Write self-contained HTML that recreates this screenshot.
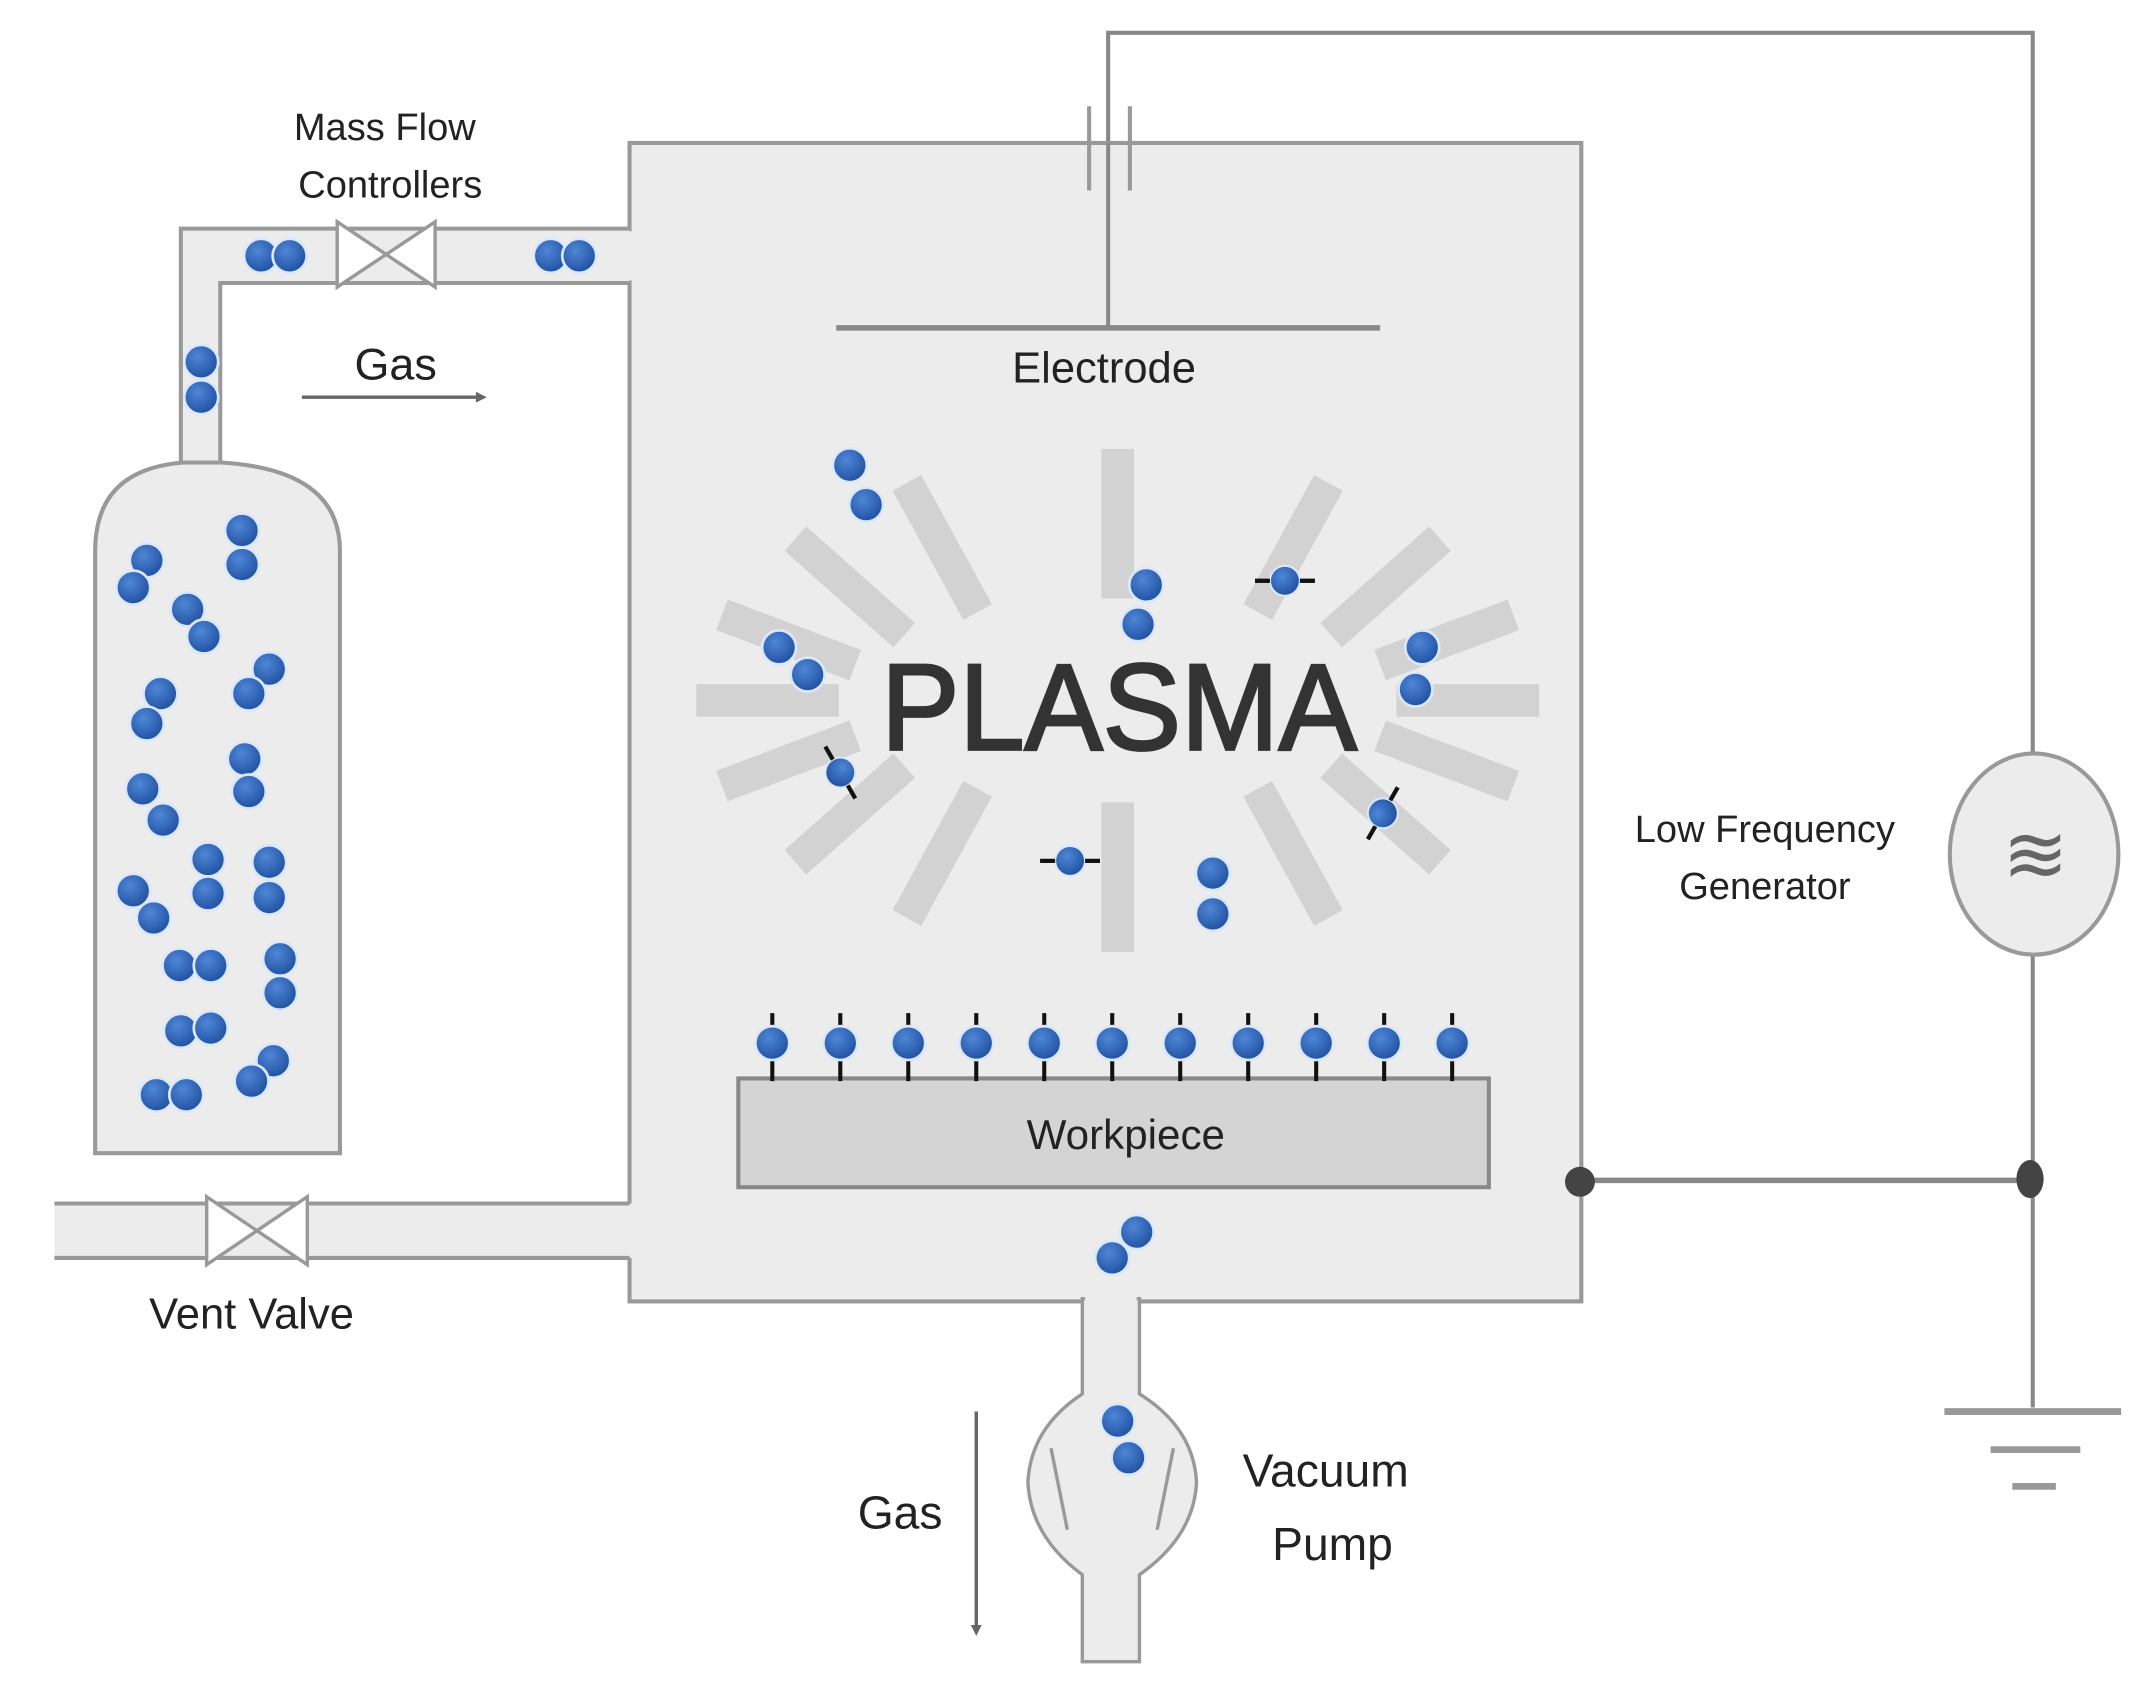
<!DOCTYPE html>
<html><head><meta charset="utf-8"><style>
html,body{margin:0;padding:0;background:#fff;}
svg{display:block;}
text{font-family:"Liberation Sans",sans-serif;fill:#222;}
</style></head><body>
<svg width="2132" height="1700" viewBox="0 0 1568 1250" xmlns="http://www.w3.org/2000/svg">
<defs>
<radialGradient id="b" cx="0.4" cy="0.35" r="0.7"><stop offset="0" stop-color="#4f86d6"/><stop offset="1" stop-color="#1e4e9e"/></radialGradient>
<g id="m"><circle r="12.5" fill="url(#b)" stroke="#dbe8fb" stroke-width="2"/></g>
<g id="ion"><line x1="-22" y1="0" x2="22" y2="0" stroke="#111" stroke-width="3"/><circle r="11" fill="url(#b)" stroke="#dbe8fb" stroke-width="1.5"/><line x1="11" y1="0" x2="22" y2="0" stroke="#111" stroke-width="3"/><line x1="-22" y1="0" x2="-11" y2="0" stroke="#111" stroke-width="3"/></g>
</defs>
<rect width="1568" height="1250" fill="#fff"/>

<g stroke="#888" stroke-width="3" fill="none">
<polyline points="815,241 815,24 1495,24 1495,555"/>
<line x1="1495" y1="702" x2="1495" y2="1035"/>
<line x1="1162" y1="868" x2="1493" y2="868" stroke-width="4"/>
</g>
<g stroke="#999" stroke-width="5">
<line x1="1430" y1="1038" x2="1560" y2="1038"/>
<line x1="1464" y1="1066" x2="1530" y2="1066"/>
<line x1="1480" y1="1093" x2="1512" y2="1093"/>
</g>

<rect x="463" y="105" width="700" height="852" fill="#ececec" stroke="#999" stroke-width="3"/>
<path d="M133,345 L133,168 L463,168 L463,208 L162,208 L162,345 Z" fill="#ececec"/>
<path d="M133,345 L133,168 L463,168 M463,208 L162,208 L162,345" fill="none" stroke="#999" stroke-width="3"/>
<rect x="461" y="170" width="6" height="36" fill="#ececec"/>
<path d="M248,163 L320,211 L320,163 L248,211 Z" fill="#fff" stroke="#999" stroke-width="2.5"/>
<rect x="40" y="885" width="425" height="40" fill="#ececec"/>
<path d="M40,885 L463,885 M40,925 L463,925" stroke="#999" stroke-width="3"/>
<rect x="461" y="887" width="6" height="36" fill="#ececec"/>
<path d="M152,880 L226,930 L226,880 L152,930 Z" fill="#fff" stroke="#999" stroke-width="2.5"/>
<path d="M796,955 L796,1025 Q758,1050 756,1090 Q758,1130 796,1158 L796,1222 L838,1222 L838,1158 Q878,1130 880,1090 Q878,1050 838,1025 L838,955 Z" fill="#ececec" stroke="#999" stroke-width="2.5"/>
<rect x="798" y="950" width="38" height="10" fill="#ececec"/>
<path d="M773,1065 L785,1125 M863,1065 L851,1125" stroke="#999" stroke-width="2.5"/>

<path d="M70,848 L70,405 Q70,345 135,340 L162,340 Q250,345 250,405 L250,848 Z" fill="#ececec" stroke="#999" stroke-width="3"/>

<g stroke="#999" stroke-width="3">
<line x1="801" y1="78" x2="801" y2="140"/>
<line x1="831" y1="78" x2="831" y2="140"/>
<line x1="615" y1="241" x2="1015" y2="241" stroke="#888" stroke-width="4"/>
</g>
<line x1="815" y1="105" x2="815" y2="241" stroke="#888" stroke-width="3"/>

<g stroke="#d2d2d2" stroke-width="24">
<line x1="1027" y1="515" x2="1132" y2="515"/>
<line x1="1015" y1="541" x2="1113" y2="578"/>
<line x1="979" y1="563" x2="1059" y2="634"/>
<line x1="925" y1="580" x2="977" y2="675"/>
<line x1="822" y1="590" x2="822" y2="700"/>
<line x1="719" y1="580" x2="667" y2="675"/>
<line x1="665" y1="563" x2="585" y2="634"/>
<line x1="629" y1="541" x2="531" y2="578"/>
<line x1="617" y1="515" x2="512" y2="515"/>
<line x1="629" y1="489" x2="531" y2="452"/>
<line x1="665" y1="467" x2="585" y2="396"/>
<line x1="719" y1="450" x2="667" y2="355"/>
<line x1="822" y1="440" x2="822" y2="330"/>
<line x1="925" y1="450" x2="977" y2="355"/>
<line x1="979" y1="467" x2="1059" y2="396"/>
<line x1="1015" y1="489" x2="1113" y2="452"/>
</g>
<text x="648" y="551" font-size="90" textLength="350" lengthAdjust="spacingAndGlyphs" style="fill:#333;stroke:#333;stroke-width:2">PLASMA</text>

<rect x="543" y="793" width="552" height="80" fill="#d4d4d4" stroke="#888" stroke-width="3"/>
<text x="828" y="845" text-anchor="middle" font-size="31">Workpiece</text>
<g stroke="#111" stroke-width="3">
<line x1="568" y1="745" x2="568" y2="795"/><line x1="618" y1="745" x2="618" y2="795"/><line x1="668" y1="745" x2="668" y2="795"/><line x1="718" y1="745" x2="718" y2="795"/><line x1="768" y1="745" x2="768" y2="795"/><line x1="818" y1="745" x2="818" y2="795"/><line x1="868" y1="745" x2="868" y2="795"/><line x1="918" y1="745" x2="918" y2="795"/><line x1="968" y1="745" x2="968" y2="795"/><line x1="1018" y1="745" x2="1018" y2="795"/><line x1="1068" y1="745" x2="1068" y2="795"/>
</g>
<g>
<use href="#m" x="568" y="767"/><use href="#m" x="618" y="767"/><use href="#m" x="668" y="767"/><use href="#m" x="718" y="767"/><use href="#m" x="768" y="767"/><use href="#m" x="818" y="767"/><use href="#m" x="868" y="767"/><use href="#m" x="918" y="767"/><use href="#m" x="968" y="767"/><use href="#m" x="1018" y="767"/><use href="#m" x="1068" y="767"/>
</g>

<g>
<use href="#m" x="108" y="412"/><use href="#m" x="98" y="432"/>
<use href="#m" x="178" y="390"/><use href="#m" x="178" y="415"/>
<use href="#m" x="138" y="448"/><use href="#m" x="150" y="468"/>
<use href="#m" x="118" y="510"/><use href="#m" x="108" y="532"/>
<use href="#m" x="198" y="492"/><use href="#m" x="183" y="510"/>
<use href="#m" x="105" y="580"/><use href="#m" x="120" y="603"/>
<use href="#m" x="180" y="558"/><use href="#m" x="183" y="582"/>
<use href="#m" x="153" y="632"/><use href="#m" x="153" y="657"/>
<use href="#m" x="198" y="634"/><use href="#m" x="198" y="660"/>
<use href="#m" x="98" y="655"/><use href="#m" x="113" y="675"/>
<use href="#m" x="132" y="710"/><use href="#m" x="155" y="710"/>
<use href="#m" x="206" y="705"/><use href="#m" x="206" y="730"/>
<use href="#m" x="133" y="758"/><use href="#m" x="155" y="756"/>
<use href="#m" x="115" y="805"/><use href="#m" x="137" y="805"/>
<use href="#m" x="201" y="780"/><use href="#m" x="185" y="795"/>
<use href="#m" x="192" y="188"/><use href="#m" x="213" y="188"/>
<use href="#m" x="405" y="188"/><use href="#m" x="426" y="188"/>
<use href="#m" x="148" y="266"/><use href="#m" x="148" y="292"/>
<use href="#m" x="625" y="342"/><use href="#m" x="637" y="371"/>
<use href="#m" x="573" y="476"/><use href="#m" x="594" y="496"/>
<use href="#m" x="843" y="430"/><use href="#m" x="837" y="459"/>
<use href="#m" x="1046" y="476"/><use href="#m" x="1041" y="507"/>
<use href="#m" x="892" y="642"/><use href="#m" x="892" y="672"/>
<use href="#m" x="836" y="906"/><use href="#m" x="818" y="925"/>
<use href="#m" x="822" y="1045"/><use href="#m" x="830" y="1072"/>
<use href="#ion" x="945" y="427"/>
<use href="#ion" x="787" y="633"/>
<use href="#ion" transform="translate(618,568) rotate(60)"/>
<use href="#ion" transform="translate(1017,598) rotate(-60)"/>
</g>

<ellipse cx="1496" cy="628" rx="62" ry="74" fill="#ececec" stroke="#999" stroke-width="3"/>
<text x="1497" y="648" text-anchor="middle" font-size="58" style="fill:#666">≋</text>
<circle cx="1162" cy="869" r="11" fill="#444"/>
<ellipse cx="1493" cy="867" rx="10" ry="14" fill="#444"/>

<g stroke="#666" stroke-width="2.5" fill="none">
<line x1="222" y1="292" x2="355" y2="292"/>
<line x1="718" y1="1038" x2="718" y2="1200"/>
</g>
<path d="M358,292 L350,288 L350,296 Z" fill="#666"/>
<path d="M718,1203 L714,1195 L722,1195 Z" fill="#666"/>

<g font-size="28">
<text x="283" y="103" text-anchor="middle">Mass Flow</text>
<text x="287" y="145" text-anchor="middle">Controllers</text>
<text x="1298" y="619" text-anchor="middle">Low Frequency</text>
<text x="1298" y="661" text-anchor="middle">Generator</text>
</g>
<text x="291" y="279" text-anchor="middle" font-size="33">Gas</text>
<text x="812" y="281" text-anchor="middle" font-size="32">Electrode</text>
<text x="185" y="977" text-anchor="middle" font-size="32">Vent Valve</text>
<text x="662" y="1124" text-anchor="middle" font-size="34">Gas</text>
<text x="975" y="1093" text-anchor="middle" font-size="34">Vacuum</text>
<text x="980" y="1147" text-anchor="middle" font-size="34">Pump</text>
</svg>
</body></html>
